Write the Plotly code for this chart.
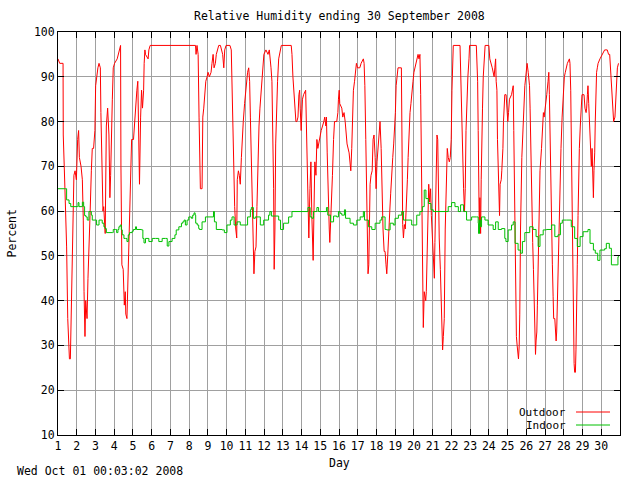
import plotly.graph_objects as go

# ---- data ----
outdoor_day = [1.00,1.09,1.27,1.28,1.37,1.41,1.46,1.52,1.55,1.61,1.66,1.69,1.75,1.80,1.85,1.91,1.98,2.05,2.10,2.14,2.23,2.30,2.35,2.39,2.44,2.48,2.55,2.60,2.67,2.71,2.78,2.83,2.90,2.97,3.01,3.08,3.13,3.19,3.26,3.29,3.35,3.40,3.44,3.49,3.52,3.58,3.65,3.72,3.77,3.81,3.84,3.90,3.95,4.02,4.16,4.22,4.29,4.34,4.36,4.41,4.48,4.54,4.59,4.62,4.68,4.73,4.78,4.84,4.89,4.93,5.03,5.10,5.16,5.21,5.26,5.32,5.35,5.41,5.46,5.51,5.57,5.60,5.64,5.67,5.81,5.85,5.92,8.34,8.37,8.42,8.48,8.53,8.57,8.60,8.69,8.73,8.78,8.83,8.89,8.96,9.01,9.08,9.17,9.22,9.28,9.33,9.40,9.45,9.53,9.58,9.67,9.72,9.79,9.85,9.90,9.97,10.18,10.25,10.29,10.33,10.38,10.43,10.49,10.54,10.57,10.63,10.68,10.73,10.79,10.84,10.89,10.96,11.02,11.07,11.12,11.18,11.23,11.27,11.32,11.37,11.43,11.46,11.51,11.57,11.62,11.67,11.73,11.78,11.83,11.89,11.94,11.99,12.10,12.21,12.28,12.31,12.37,12.42,12.47,12.51,12.54,12.58,12.62,12.67,12.72,12.78,12.83,12.88,12.92,13.45,13.49,13.54,13.59,13.63,13.66,13.70,13.75,13.81,13.86,13.90,13.93,13.98,14.05,14.11,14.22,14.25,14.30,14.36,14.39,14.45,14.50,14.55,14.59,14.62,14.66,14.71,14.77,14.82,14.87,14.94,15.05,15.19,15.24,15.30,15.33,15.37,15.42,15.48,15.51,15.55,15.60,15.65,15.71,15.76,15.88,15.94,15.97,16.01,16.04,16.15,16.20,16.27,16.33,16.38,16.43,16.54,16.59,16.63,16.68,16.72,16.77,16.83,16.88,16.93,16.99,17.11,17.18,17.30,17.34,17.38,17.43,17.48,17.52,17.55,17.59,17.62,17.66,17.71,17.77,17.82,17.87,17.93,17.98,18.03,18.09,18.16,18.19,18.25,18.30,18.35,18.41,18.46,18.51,18.55,18.60,18.65,18.71,18.76,18.81,18.87,18.92,18.97,19.01,19.05,19.10,19.15,19.33,19.37,19.40,19.44,19.49,19.54,19.60,19.65,19.69,19.74,19.79,19.84,19.90,19.95,20.00,20.06,20.11,20.22,20.27,20.32,20.36,20.40,20.43,20.47,20.50,20.55,20.63,20.66,20.70,20.75,20.79,20.84,20.89,20.93,20.98,21.03,21.09,21.12,21.18,21.23,21.27,21.30,21.35,21.41,21.46,21.50,21.53,21.57,21.62,21.67,21.73,21.78,21.83,21.89,21.94,21.99,22.03,22.06,22.10,22.46,22.49,22.54,22.60,22.65,22.70,22.74,22.78,22.83,22.88,22.94,22.97,23.33,23.36,23.40,23.43,23.47,23.49,23.52,23.56,23.59,23.63,23.66,23.70,23.73,23.77,23.80,24.00,24.05,24.18,24.28,24.32,24.36,24.39,24.43,24.46,24.50,24.53,24.57,24.60,24.66,24.69,24.75,24.78,24.82,24.85,24.92,24.96,25.01,25.05,25.10,25.21,25.30,25.33,25.37,25.40,25.44,25.47,25.51,25.54,25.58,25.62,25.65,25.69,25.72,25.76,25.81,25.86,25.92,25.97,26.01,26.04,26.10,26.13,26.17,26.20,26.24,26.27,26.31,26.34,26.38,26.42,26.45,26.49,26.52,26.56,26.59,26.63,26.66,26.70,26.73,26.81,26.88,26.91,26.95,27.02,27.09,27.16,27.20,27.23,27.27,27.30,27.36,27.39,27.43,27.46,27.52,27.55,27.59,27.62,27.66,27.69,27.73,27.77,27.80,27.85,27.91,27.96,27.99,28.03,28.08,28.14,28.19,28.30,28.33,28.37,28.40,28.44,28.48,28.51,28.55,28.58,28.62,28.65,28.69,28.72,28.76,28.79,28.83,28.88,28.94,28.97,29.08,29.13,29.19,29.22,29.26,29.29,29.33,29.36,29.40,29.44,29.47,29.51,29.54,29.58,29.61,29.65,29.68,29.72,29.75,29.79,29.83,29.93,30.04,30.18,30.32,30.39,30.45,30.48,30.52,30.55,30.59,30.62,30.66,30.73,30.78,30.82,30.86,30.92]
outdoor_rh = [94,93,93,77,65,59,52,36,31,27,27,33,44,54,68,69,67,76,78,72,70,67,58,42,32,40,36,45,52,59,69,74,74,78,88,91,92,93,92,82,70,60,61,56,55,79,83,77,63,68,77,85,92,93,94,95,96,97,70,48,47,39,42,37,36,44,55,63,69,76,76,81,83,87,89,70,66,81,87,83,87,93,96,95,94,96,97,97,95,97,95,81,69,65,65,81,83,87,89,90,91,90,91,93,95,92,93,95,96,97,97,96,95,92,96,97,97,96,88,78,70,61,56,54,67,69,68,66,72,77,80,84,87,89,91,92,89,81,71,59,48,46,51,52,61,71,79,83,86,89,92,95,96,95,96,95,92,89,78,65,47,56,75,83,89,94,95,96,97,97,95,90,87,86,83,80,80,81,86,87,83,78,85,86,87,81,74,57,54,65,71,59,50,49,59,71,68,76,74,76,78,80,81,79,81,73,62,56,53,59,63,68,76,80,80,82,85,87,84,83,81,82,80,78,75,73,71,69,74,83,87,89,91,93,92,92,93,94,93,88,76,63,50,46,48,57,66,68,69,76,77,72,65,71,75,79,80,74,61,56,51,51,48,46,50,56,60,64,69,72,75,78,82,88,91,92,92,70,57,54,57,56,61,67,72,79,82,84,86,89,91,92,93,95,94,95,86,66,51,42,34,42,40,42,48,59,66,62,65,59,54,50,45,53,63,77,76,63,54,47,38,35,29,32,36,56,69,74,72,71,72,76,87,92,97,97,92,80,71,65,60,65,78,86,90,94,97,97,94,89,78,62,56,63,55,67,82,83,90,93,95,97,97,94,92,90,92,94,89,87,76,71,66,59,66,67,69,74,80,83,86,86,83,80,82,85,86,88,78,62,49,39,32,30,29,27,30,37,56,68,72,77,84,88,90,92,93,91,89,88,83,71,63,59,53,47,39,33,28,31,33,39,48,59,66,69,74,80,82,81,83,86,89,91,86,75,63,54,48,41,36,36,33,31,33,41,49,57,66,71,74,81,85,88,90,91,92,93,94,93,87,74,63,51,36,26,24,24,29,37,48,59,68,74,79,83,86,86,83,82,83,86,88,84,81,77,74,70,74,68,63,69,73,80,87,91,92,93,94,95,96,96,95,95,93,90,89,86,83,80,81,86,89,92,93]

indoor_day = [1.00,1.41,1.46,1.59,1.68,2.03,2.07,2.12,2.30,2.37,2.42,2.49,2.56,2.65,2.72,2.78,2.83,3.01,3.06,3.19,3.31,3.36,3.45,3.51,3.58,3.90,3.95,4.07,4.13,4.20,4.25,4.32,4.38,4.43,4.52,4.61,4.68,4.75,4.82,4.96,5.02,5.14,5.19,5.46,5.53,5.59,5.67,5.85,6.03,6.21,6.38,6.56,6.74,6.83,6.92,7.09,7.24,7.31,7.45,7.59,7.66,7.73,7.80,7.89,7.98,8.12,8.19,8.26,8.32,8.35,8.43,8.51,8.55,8.69,8.87,9.30,9.35,9.45,9.76,9.88,10.02,10.20,10.29,10.40,10.56,10.73,11.00,11.12,11.27,11.32,11.43,11.53,11.80,11.98,12.24,12.31,12.39,12.69,12.78,12.88,13.04,13.31,13.49,14.29,14.34,14.46,14.55,14.64,14.82,14.91,15.33,15.40,15.55,15.71,15.88,15.97,16.06,16.15,16.29,16.35,16.59,16.77,16.95,17.13,17.30,17.36,17.57,17.75,17.93,18.19,18.28,18.46,18.55,18.73,18.90,18.99,19.17,19.35,19.44,19.88,20.15,20.32,20.45,20.55,20.64,20.77,20.91,21.03,21.66,21.83,22.01,22.19,22.37,22.49,22.65,22.81,22.99,23.08,23.34,23.43,23.45,23.50,23.56,23.61,23.79,23.96,24.23,24.36,24.50,24.68,24.85,24.91,25.03,25.21,25.30,25.40,25.56,25.70,25.79,25.92,26.18,26.36,26.52,26.63,26.73,26.90,27.07,27.34,27.52,27.69,27.82,27.92,28.14,28.40,28.58,28.72,28.87,29.03,29.29,29.40,29.58,29.68,29.81,29.93,30.18,30.27,30.43,30.54,30.86,30.89,30.95]
indoor_rh = [65,65,62.5,61.7,61,61,61.9,61,62,61,59,58.7,58,59.9,59.9,59.1,58,58,56.9,58,58,57.3,56.5,56.1,55.2,55.2,55.9,55.9,55.2,55.9,56.5,56.9,55.8,54.7,53.9,53.9,53.2,54.7,55.2,55.5,55.9,56.5,55.9,55.8,53.9,52.9,53.9,53.2,53.9,53.9,53.2,53.9,53.9,52.2,53.2,53.9,54.7,55.8,56.5,57.3,57.6,58,56.9,58,58.7,58.4,59.1,59.6,59.1,57.3,56.9,56.1,55.9,57.6,58.7,59.9,57.6,55.9,55.8,55.2,56.9,58,58.7,56.9,57.6,56.9,56.9,58.7,60.3,60.8,58.4,58.7,56.9,58,59.1,59.9,58.9,58.9,58,55.9,57.3,58.7,59.9,59.9,60.8,58.7,58.4,59.9,60.8,59.9,60.8,59.1,57.6,58.9,58.7,59.9,59.5,59.1,60.3,58.4,57.3,56.9,58,58.7,59.9,58,56.5,55.9,57.3,58,58.7,55.9,55.8,57.3,56.9,58.4,59.1,59.9,58,56.9,59.1,59.9,61,64.7,62.8,61.7,60.3,59.9,59.9,61,61.9,61,59.9,61.4,59.9,58,58,58.7,58.7,57.3,55,58,56.5,58.7,58,56.9,55.9,57.6,55.9,56.1,53.9,53.2,55.8,56.9,57.6,52.8,51.3,50.6,53.2,55.2,56.5,55.9,54.3,52.1,54.7,55.8,55.9,56.9,54.3,54.7,57.3,58,58,56.5,53.9,52.1,54.3,55.4,55.9,52.8,51.3,50.6,49,51.3,51.6,52.8,51.7,48,48,49.8,49.8]

day_ticks = list(range(1, 31))
percent_ticks = list(range(10, 101, 10))
series_names = ["Outdoor", "Indoor"]
series_colors = ["#ff0000", "#00c000"]

title_text = "Relative Humidity ending 30 September 2008"
footer_text = "Wed Oct 01 00:03:02 2008"

FONT = "DejaVu Sans Mono"
FS = 11.5

fig = go.Figure()
fig.add_trace(go.Scatter(x=outdoor_day, y=outdoor_rh, mode="lines", name=series_names[0],
                         line=dict(color=series_colors[0], width=1), showlegend=False))
fig.add_trace(go.Scatter(x=indoor_day, y=indoor_rh, mode="lines", name=series_names[1],
                         line=dict(color=series_colors[1], width=1, shape="hv"), showlegend=False))

axis_common = dict(showgrid=True, gridcolor="#a0a0a0", gridwidth=1,
                   showline=True, linecolor="black", linewidth=1, mirror="allticks",
                   ticks="inside", ticklen=6, tickcolor="black", tickwidth=1,
                   zeroline=False, tickfont=dict(family=FONT, size=FS, color="black"))

fig.update_xaxes(range=[1, 31], tickvals=day_ticks, ticktext=[str(d) for d in day_ticks], **axis_common)
fig.update_yaxes(range=[10, 100], tickvals=percent_ticks, **axis_common)

W, H = 640, 480
L, R, T, B = 58, 20, 32, 45
pw, ph = W - L - R, H - T - B

def px(x):
    return (x - L) / pw

def py(y):
    return (H - B - y) / ph

annotations = [
    dict(text=title_text, x=0.5, y=py(16), xref="paper", yref="paper", showarrow=False,
         xanchor="center", yanchor="middle", font=dict(family=FONT, size=FS, color="black")),
    dict(text="Day", x=0.5, y=py(463), xref="paper", yref="paper", showarrow=False,
         xanchor="center", yanchor="middle", font=dict(family=FONT, size=FS, color="black")),
    dict(text="Percent", x=px(11), y=0.5, xref="paper", yref="paper", showarrow=False, textangle=-90,
         xanchor="center", yanchor="middle", font=dict(family=FONT, size=FS, color="black")),
    dict(text=footer_text, x=px(15), y=py(471), xref="paper", yref="paper", showarrow=False,
         xanchor="left", yanchor="middle", font=dict(family=FONT, size=FS, color="black")),
]
shapes = [dict(type="rect", xref="paper", yref="paper", x0=px(514), x1=px(615), y0=py(434), y1=py(405),
               fillcolor="white", line=dict(width=0), layer="between")]
for i, (name, col) in enumerate(zip(series_names, series_colors)):
    yy = 412 + 13 * i
    annotations.append(dict(text=name, x=px(567), y=py(yy), xref="paper", yref="paper", showarrow=False,
                            xanchor="right", yanchor="middle", borderpad=0,
                            font=dict(family=FONT, size=11, color="black")))
    shapes.append(dict(type="line", xref="paper", yref="paper", x0=px(576), x1=px(610), y0=py(yy), y1=py(yy),
                       line=dict(color=col, width=1), layer="above"))

fig.update_layout(width=W, height=H, margin=dict(l=L, r=R, t=T, b=B),
                  paper_bgcolor="white", plot_bgcolor="white",
                  annotations=annotations, shapes=shapes, showlegend=False,
                  font=dict(family=FONT, size=FS, color="black"))

fig.write_html("out.html", config={"displayModeBar": False},
               post_script="document.body.style.margin='0';document.body.style.overflow='hidden';")
